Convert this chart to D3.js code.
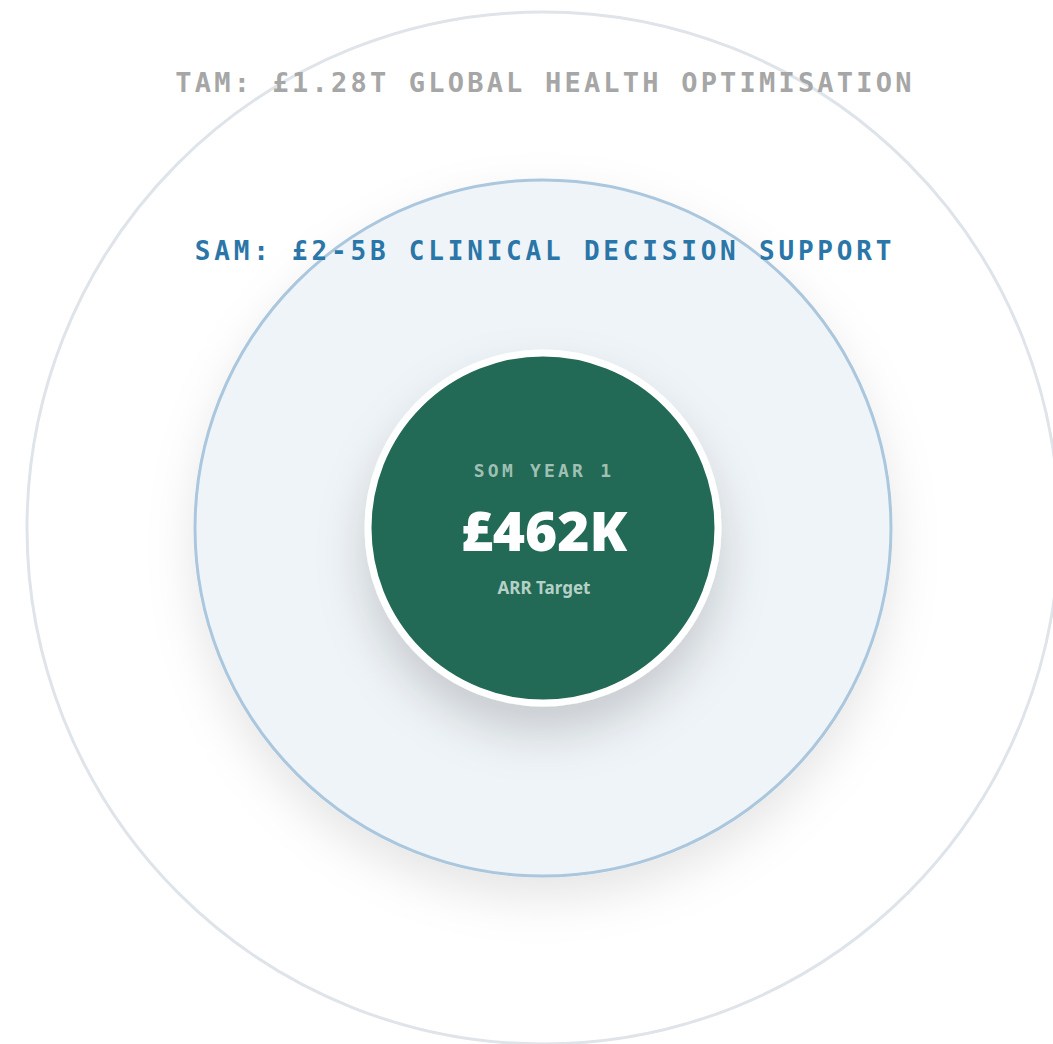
<!DOCTYPE html>
<html>
<head>
<meta charset="utf-8">
<script src="https://cdn.jsdelivr.net/npm/d3@7"></script>
<style>
  body { margin: 0; background: #fff; }
  svg { display: block; }
</style>
</head>
<body>
<div id="graph"></div>
<script>
// Niveaux du marché et leurs textes
var niveaux = ["TAM", "SAM", "SOM"];
var titres = ["TAM: £1.28T GLOBAL HEALTH OPTIMISATION", "SAM: £2-5B CLINICAL DECISION SUPPORT", "SOM YEAR 1"];
var valeurSom = "£462K";
var sousTitreSom = "ARR Target";

var largeur = 1053, hauteur = 1044;
var cx = 543, cy = 528;

// rayon de chaque cercle (pas proportionnel, comme dans l'original)
var echelleR = d3.scaleOrdinal().domain(niveaux).range([516, 348, 172]);

var svg = d3.select("#graph").append("svg")
    .attr("width", largeur)
    .attr("height", hauteur);

var defs = svg.append("defs");
defs.append("filter").attr("id", "ombreSam")
    .attr("x", "-30%").attr("y", "-30%").attr("width", "160%").attr("height", "160%")
  .append("feDropShadow")
    .attr("dx", 0).attr("dy", 20).attr("stdDeviation", 24)
    .attr("flood-color", "#000").attr("flood-opacity", 0.1);
defs.append("filter").attr("id", "ombreSom")
    .attr("x", "-50%").attr("y", "-50%").attr("width", "200%").attr("height", "200%")
  .append("feDropShadow")
    .attr("dx", 0).attr("dy", 26).attr("stdDeviation", 24)
    .attr("flood-color", "#000").attr("flood-opacity", 0.17);

var g = svg.append("g").attr("transform", "translate(" + cx + "," + cy + ")");

// TAM
g.append("circle")
    .attr("r", echelleR("TAM"))
    .attr("fill", "none")
    .attr("stroke", "#dfe4ea")
    .attr("stroke-width", 3);

// SAM
g.append("circle")
    .attr("r", echelleR("SAM"))
    .attr("fill", "#eff4f8")
    .attr("stroke", "#abc7de")
    .attr("stroke-width", 3)
    .attr("filter", "url(#ombreSam)");

// SOM
g.append("circle")
    .attr("r", echelleR("SOM") + 3)
    .attr("fill", "#236956")
    .attr("stroke", "#fff")
    .attr("stroke-width", 7)
    .attr("filter", "url(#ombreSom)");

var mono = "'DejaVu Sans Mono', 'Liberation Mono', monospace";

g.append("text")
    .attr("x", 2).attr("y", -echelleR("TAM") + 80)
    .attr("text-anchor", "middle")
    .style("font-family", mono).style("font-weight", "bold")
    .style("font-size", "27px").style("letter-spacing", "3.2px")
    .attr("fill", "#a6a6a6")
    .text(titres[0]);

g.append("text")
    .attr("x", 2).attr("y", -echelleR("SAM") + 80)
    .attr("text-anchor", "middle")
    .style("font-family", mono).style("font-weight", "bold")
    .style("font-size", "26px").style("letter-spacing", "3.8px")
    .attr("fill", "#2a76a8")
    .text(titres[1]);

g.append("text")
    .attr("x", 1).attr("y", -51)
    .attr("text-anchor", "middle")
    .style("font-family", mono).style("font-weight", "bold")
    .style("font-size", "18px").style("letter-spacing", "3.2px")
    .attr("fill", "#9fc0b3")
    .text(titres[2]);

g.append("text")
    .attr("x", 1).attr("y", 23)
    .attr("text-anchor", "middle")
    .style("font-family", "'Noto Sans', sans-serif").style("font-weight", "900")
    .style("font-size", "55px")
    .attr("fill", "#fff")
    .text(valeurSom);

g.append("text")
    .attr("x", 1).attr("y", 66)
    .attr("text-anchor", "middle")
    .style("font-family", "'Noto Sans', sans-serif").style("font-weight", "bold")
    .style("font-size", "17px")
    .attr("fill", "#b5d1c6")
    .text(sousTitreSom);
</script>
</body>
</html>
